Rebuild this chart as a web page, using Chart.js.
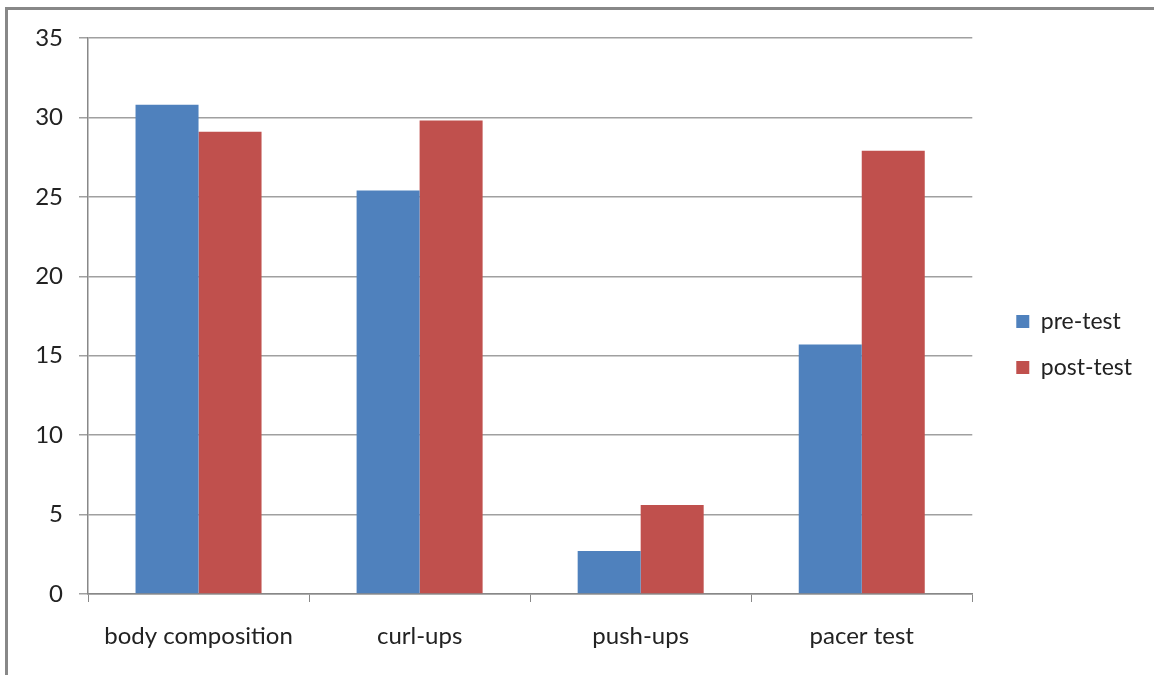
<!DOCTYPE html>
<html>
<head>
<meta charset="utf-8">
<script src="https://cdn.jsdelivr.net/npm/chart.js@4"></script>
<style>
  html, body { margin: 0; padding: 0; background: #fff; }
  #wrap { position: relative; width: 1154px; height: 675px; }
  #frame { position: absolute; left: 5px; top: 7px; right: 0; bottom: 0;
           border-left: 3px solid #888; border-top: 3px solid #888; }
  canvas { position: absolute; left: 0; top: 0; }
</style>
</head>
<body>
<div id="wrap">
  <div id="frame"></div>
  <canvas id="ChartTests" width="1154" height="675"></canvas>
</div>
<script>
const categories = ["body composition", "curl-ups", "push-ups", "pacer test"]
const pre_test = [30.8, 25.4, 2.7, 15.7]
const post_test = [29.1, 29.8, 5.6, 27.9]
const y_ticks = [0, 5, 10, 15, 20, 25, 30, 35]

Chart.defaults.font.family = "Lato, 'Open Sans', sans-serif"
Chart.defaults.color = "#222"

const ctx = document.getElementById("ChartTests")
new Chart(ctx, {
    type: "bar",
    data: {
        labels: categories,
        datasets: [{
            label: "pre-test",
            data: pre_test,
            backgroundColor: "#4F81BD",
            borderWidth: 0
        }, {
            label: "post-test",
            data: post_test,
            backgroundColor: "#C0504D",
            borderWidth: 0
        }]
    },
    options: {
        responsive: false,
        animation: false,
        layout: { padding: { left: 0, top: 38, right: 12, bottom: 24 } },
        datasets: { bar: { categoryPercentage: 0.57, barPercentage: 1.0 } },
        plugins: {
            legend: {
                position: "right",
                labels: {
                    boxWidth: 13,
                    boxHeight: 13,
                    padding: 23,
                    font: { size: 23 }
                }
            },
            tooltip: { enabled: false }
        },
        scales: {
            x: {
                afterFit: (axis) => { axis.height = 57 },
                grid: { display: true, drawOnChartArea: false, offset: true, color: "#888", tickLength: 8 },
                border: { color: "#888", width: 1.5 },
                ticks: { font: { size: 24 }, padding: 20, color: "#222" }
            },
            y: {
                min: 0,
                max: 35,
                afterBuildTicks: (axis) => { axis.ticks = y_ticks.map(v => ({ value: v })) },
                afterFit: (axis) => { axis.width = 88 },
                grid: { color: "#a0a0a0", lineWidth: 1.5, tickLength: 9 },
                border: { color: "#888", width: 1.5 },
                ticks: { font: { size: 24 }, padding: 16, color: "#222" }
            },
            // empty spacer so the legend sits further from the plot
            spacer: {
                position: "right",
                display: true,
                afterFit: (axis) => { axis.width = 21 },
                grid: { display: false },
                border: { display: false },
                ticks: { display: false }
            }
        }
    }
})
</script>
</body>
</html>
